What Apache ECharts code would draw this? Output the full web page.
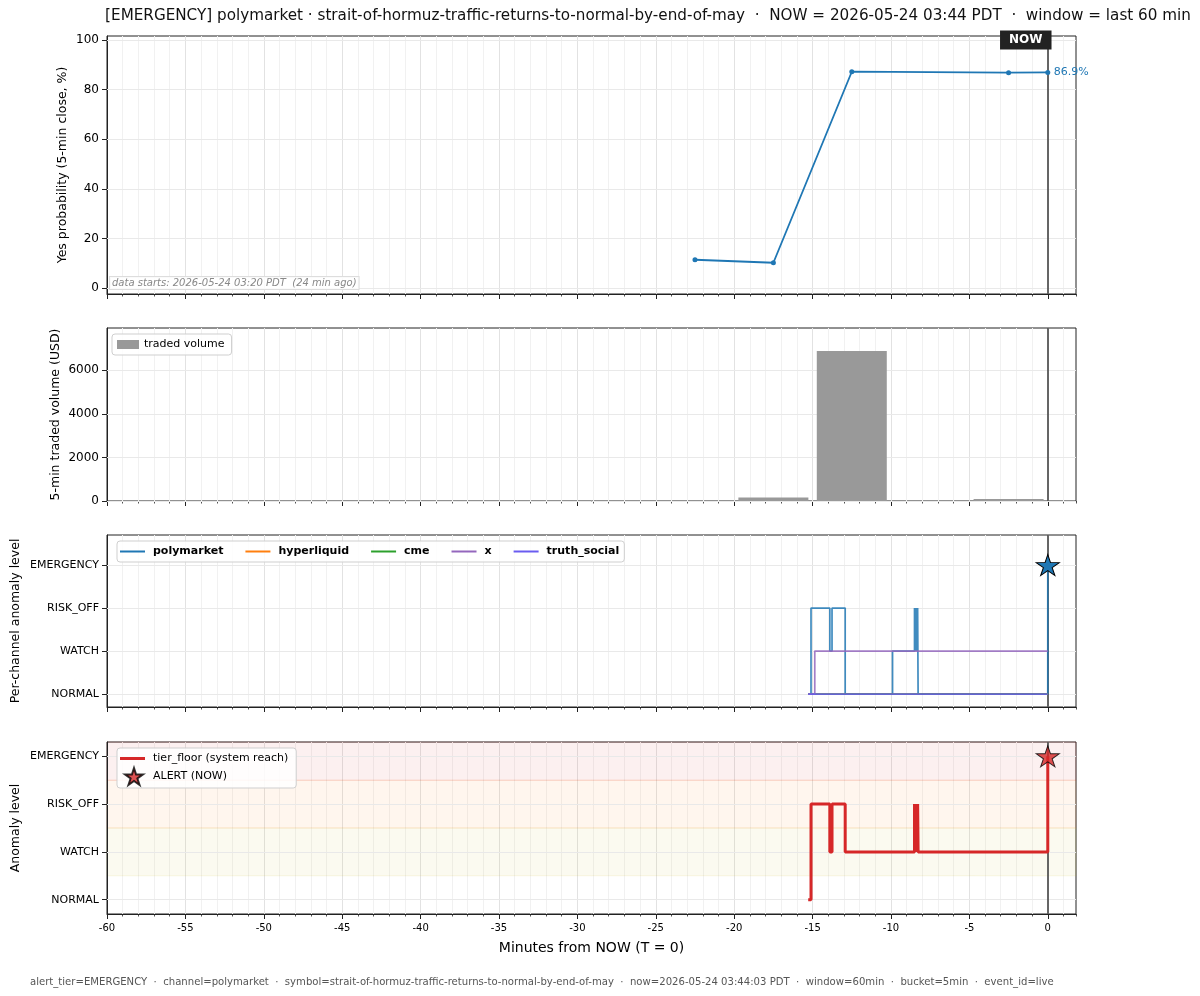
<!DOCTYPE html>
<html>
<head>
<meta charset="utf-8">
<script src="https://cdn.jsdelivr.net/npm/echarts@6/dist/echarts.min.js"></script>
<style>html,body{margin:0;padding:0;background:#fff}#c{width:1200px;height:996px}</style>
</head>
<body>
<div id="c"></div>
<script>
// ---- data ----
const titleText = '[EMERGENCY] polymarket \u00b7 strait-of-hormuz-traffic-returns-to-normal-by-end-of-may  \u00b7  NOW = 2026-05-24 03:44 PDT  \u00b7  window = last 60 min';
const footerText = 'alert_tier=EMERGENCY  \u00b7  channel=polymarket  \u00b7  symbol=strait-of-hormuz-traffic-returns-to-normal-by-end-of-may  \u00b7  now=2026-05-24 03:44:03 PDT  \u00b7  window=60min  \u00b7  bucket=5min  \u00b7  event_id=live';
const dataStartsText = 'data starts: 2026-05-24 03:20 PDT  (24 min ago)';

const xTicks = [-60,-55,-50,-45,-40,-35,-30,-25,-20,-15,-10,-5,0];
const yesTicks = [0,20,40,60,80,100];
const volTicks = [0,2000,4000,6000];
const levelNames = ['NORMAL','WATCH','RISK_OFF','EMERGENCY'];
const levelTicks = [0,1,2,3];

// 5-min close of Yes probability (%)
const yesTimes = [-22.5,-17.5,-12.5,-2.5,0];
const yesProb  = [11.4,10.2,87.2,86.8,86.9];

// 5-min traded volume (USD)
const volTimes = [-22.5,-17.5,-12.5,-7.5,-2.5];
const volValues = [0,160,6880,0,90];

// per-channel anomaly levels (0=NORMAL..3=EMERGENCY), step-post
const channelNames = ['polymarket','hyperliquid','cme','x','truth_social'];
const channelColors = ['#1f77b4','#ff7f0e','#2ca02c','#9467bd','#6a5cf0'];
const polyTimes  = [-15.28,-15.1,-13.9,-13.76,-12.92,-9.9,-8.5,-8.45,-8.4,-8.35,-8.3,-8.27,0];
const polyLevels = [0,2,1,2,0,1,2,1,2,1,2,0,3];
const hyperTimes = [-15.28,0];
const hyperLevels = [0,0];
const cmeTimes = [-15.28,0];
const cmeLevels = [0,0];
const xTimes = [-15.28,-14.86,0];
const xLevels = [0,1,1];
const truthTimes = [-15.28,0];
const truthLevels = [0,0];

// system tier floor
const tierTimes  = [-15.28,-15.1,-13.9,-13.76,-12.92,-8.5,-8.45,-8.4,-8.35,-8.3,-8.27,0];
const tierLevels = [0,2,1,2,1,2,1,2,1,2,1,3];

const alertTime = 0, alertLevel = 3;

// ---- build ----
const zip = (a,b) => a.map((v,i)=>[v,b[i]]);
const FONT = 'DejaVu Sans';
const STAR = 'path://M100 0 L122.45 69.1 L195.1 69.1 L136.33 111.8 L158.8 180.9 L100 138.2 L41.2 180.9 L63.67 111.8 L4.9 69.1 L77.55 69.1 Z';
const LINE_ICON_THIN = 'path://M0 0 M0 4 L25 4 L25 6 L0 6 Z M28 10';
const LINE_ICON_THICK = 'path://M0 0 M0 7 L25 7 L25 10 L0 10 Z M28 17';
const xMin = -60, xMax = 1.8;

const grids = [
  {left:107, right:124, top:36, height:258},
  {left:107, right:124, top:328, height:173},
  {left:107, right:124, top:535, height:172},
  {left:107, right:124, top:742, height:172}
].map(g => Object.assign(g, {show:true, borderColor:'#222', borderWidth:1, backgroundColor:'transparent'}));

const xAxes = [];
for (let p=0;p<4;p++){
  xAxes.push({ // minor
    type:'value', gridIndex:p, min:xMin, max:xMax, interval:1, position:'bottom',
    axisLine:{show:false, onZero:false}, axisLabel:{show:false},
    axisTick:{show:true, length:2.5, lineStyle:{color:'#222', width:0.8}},
    splitLine:{show:true, showMinLine:false, showMaxLine:false, lineStyle:{color:'#f1f1f1', width:1}}
  });
  xAxes.push({ // major
    type:'value', gridIndex:p, min:xMin, max:xMax, interval:5, position:'bottom',
    axisLine:{show:true, onZero:false, lineStyle:{color:'#222', width:1}},
    axisTick:{show:true, length:5, customValues:xTicks, lineStyle:{color:'#222', width:1}},
    axisLabel:{show:p===3, customValues:xTicks, fontSize:10, color:'#000', fontFamily:FONT, margin:9},
    splitLine:{show:true, showMinLine:false, showMaxLine:false, lineStyle:{color:'#e2e2e2', width:1}},
    name: p===3 ? 'Minutes from NOW (T = 0)' : '', nameLocation:'middle', nameGap:27, nameMoveOverlap:false,
    nameTextStyle:{fontSize:14, color:'#000', fontFamily:FONT}
  });
}

function yAxis(p, min, max, ticks, name, gap, fmt, fs){
  return {
    type:'value', gridIndex:p, min:min, max:max,
    axisLine:{show:true, onZero:false, lineStyle:{color:'#222'}},
    axisTick:{show:true, length:5, customValues:ticks, lineStyle:{color:'#222'}},
    axisLabel:{customValues:ticks, fontSize:fs, color:'#000', fontFamily:FONT, margin:8, formatter:fmt},
    splitLine:{show:false},
    name:name, nameLocation:'middle', nameGap:gap, nameMoveOverlap:false,
    nameTextStyle:{fontSize:12.5, color:'#000', fontFamily:FONT}
  };
}
const lvlFmt = v => levelNames[Math.round(v)] || '';
const yAxes = [
  yAxis(0, -2.4, 101.6, yesTicks, 'Yes probability (5-min close, %)', 38, v=>String(v), 12),
  yAxis(1, 0, 7940, volTicks, '5-min traded volume (USD)', 45, v=>String(v), 12),
  yAxis(2, -0.3, 3.7, levelTicks, 'Per-channel anomaly level', 85, lvlFmt, 11),
  yAxis(3, -0.3, 3.3, levelTicks, 'Anomaly level', 85, lvlFmt, 11)
];

function helper(p, yt, extraMarkPoint){
  const s = {
    type:'line', name:'_grid'+p, xAxisIndex:2*p+1, yAxisIndex:p, z:1,
    data:[[xMin, yt[0]]], symbol:'none', lineStyle:{opacity:0}, silent:true,
    markLine:{
      silent:true, z:1, symbol:['none','none'], label:{show:false}, animation:false,
      data: yt.map(v=>({yAxis:v, lineStyle:{color:'#e9e9e9', width:1, type:'solid'}}))
        .concat([{xAxis:0, lineStyle:{color:'#555', width:2, type:'solid', opacity:0.9}}])
    }
  };
  if (extraMarkPoint) s.markPoint = extraMarkPoint;
  return s;
}

const chanTimes = [polyTimes, hyperTimes, cmeTimes, xTimes, truthTimes];
const chanLevels = [polyLevels, hyperLevels, cmeLevels, xLevels, truthLevels];
const chanSeries = channelNames.map((n,i)=>({
  type:'line', name:n, step:'end', symbol:'none', showSymbol:false, xAxisIndex:5, yAxisIndex:2, z:3,
  data: zip(chanTimes[i], chanLevels[i]),
  lineStyle:{color:channelColors[i], width:1.7, opacity:0.85}, itemStyle:{color:channelColors[i]}
}));

const series = [
  helper(0, yesTicks, {
    symbol:'rect', symbolSize:0, silent:true, animation:false, z:6,
    data:[{coord:[0, 100], label:{show:true, position:'inside', offset:[-22,0], formatter:'NOW',
      color:'#fff', fontWeight:'bold', fontSize:12, fontFamily:FONT, backgroundColor:'#222', padding:[4,9,3,9]}}]
  }),
  helper(1, volTicks),
  helper(2, levelTicks),
  helper(3, levelTicks),
  {
    type:'line', name:'yes', xAxisIndex:1, yAxisIndex:0, z:3,
    data: zip(yesTimes, yesProb), symbol:'circle', symbolSize:5, showSymbol:true,
    lineStyle:{color:'#1f77b4', width:1.8}, itemStyle:{color:'#1f77b4'},
    endLabel:{show:true, distance:6, formatter:p=>p.value[1].toFixed(1)+'%', color:'#1f77b4', fontSize:11, fontFamily:FONT}
  },
  {
    type:'bar', name:'traded volume', xAxisIndex:3, yAxisIndex:1, z:3,
    data: zip(volTimes, volValues), barWidth:70, itemStyle:{color:'#999999'}
  }
].concat(chanSeries).concat([
  {
    type:'scatter', name:'polymarket NOW', xAxisIndex:5, yAxisIndex:2, z:5,
    data:[[alertTime, alertLevel]], symbol:STAR, symbolSize:[23,22], symbolKeepAspect:true,
    itemStyle:{color:'#1f77b4', borderColor:'#000', borderWidth:1, opacity:1}
  },
  {
    type:'line', name:'tier_floor (system reach)', step:'end', xAxisIndex:7, yAxisIndex:3, z:3,
    data: zip(tierTimes, tierLevels), symbol:'none', showSymbol:false,
    lineStyle:{color:'#d62728', width:3}, itemStyle:{color:'#d62728'},
    markArea:{silent:true, z:0, data:[
      [{yAxis:0.5, itemStyle:{color:'rgba(205,190,40,0.07)', borderColor:'rgba(205,190,40,0.12)', borderWidth:1}},{yAxis:1.5}],
      [{yAxis:1.5, itemStyle:{color:'rgba(255,127,14,0.07)', borderColor:'rgba(255,127,14,0.12)', borderWidth:1}},{yAxis:2.5}],
      [{yAxis:2.5, itemStyle:{color:'rgba(214,39,40,0.07)', borderColor:'rgba(214,39,40,0.12)', borderWidth:1}},{yAxis:3.5}]
    ]}
  },
  {
    type:'scatter', name:'ALERT (NOW)', xAxisIndex:7, yAxisIndex:3, z:5,
    data:[[alertTime, alertLevel]], symbol:STAR, symbolSize:[23,22], symbolKeepAspect:true,
    itemStyle:{color:'#d62728', borderColor:'#000', borderWidth:1}
  }
]);

const legendBase = {borderColor:'#cfcfcf', borderWidth:1, borderRadius:3, backgroundColor:'rgba(255,255,255,0.85)',
  textStyle:{fontSize:11, color:'#000', fontFamily:FONT}, selectedMode:false};

const option = {
  animation:false,
  backgroundColor:'#fff',
  grid: grids,
  xAxis: xAxes,
  yAxis: yAxes,
  legend:[
    Object.assign({}, legendBase, {left:112, top:334, padding:[5,7,5,5], itemWidth:22, itemHeight:9,
      data:[{name:'traded volume', icon:'rect'}]}),
    Object.assign({}, legendBase, {left:117, top:541, padding:[5,5,5,3], itemWidth:28, itemHeight:10, itemGap:22,
      textStyle:{fontSize:11, color:'#000', fontFamily:FONT, fontWeight:'bold'},
      data: channelNames.map((n,i)=>({name:n, icon:LINE_ICON_THIN, itemStyle:{color:channelColors[i], borderWidth:0, opacity:1}}))}),
    Object.assign({}, legendBase, {left:117, top:748, orient:'vertical', padding:[2,8,2,3], itemWidth:28, itemHeight:17, itemGap:0,
      data:[{name:'tier_floor (system reach)', icon:LINE_ICON_THICK, itemStyle:{color:'#d62728', borderWidth:0}}, {name:'ALERT (NOW)'}]})
  ],
  graphic:[
    {type:'text', x:648, y:16, style:{text:titleText, fontSize:15.2, fontFamily:FONT, fill:'#111', align:'center', verticalAlign:'middle'}},
    {type:'text', x:30, y:982, style:{text:footerText, fontSize:10.1, fontFamily:FONT, fill:'#555', align:'left', verticalAlign:'middle'}},
    {type:'text', x:110, y:283, z:10, style:{text:dataStartsText, fontSize:10, fontStyle:'italic', fontFamily:FONT, fill:'#888',
      align:'left', verticalAlign:'middle', backgroundColor:'rgba(255,255,255,0.85)', borderColor:'#ddd', borderWidth:1, padding:[1,2,1,2]}}
  ],
  series: series
};

const chart = echarts.init(document.getElementById('c'), null, {renderer:'canvas'});
chart.setOption(option);
</script>
</body>
</html>
